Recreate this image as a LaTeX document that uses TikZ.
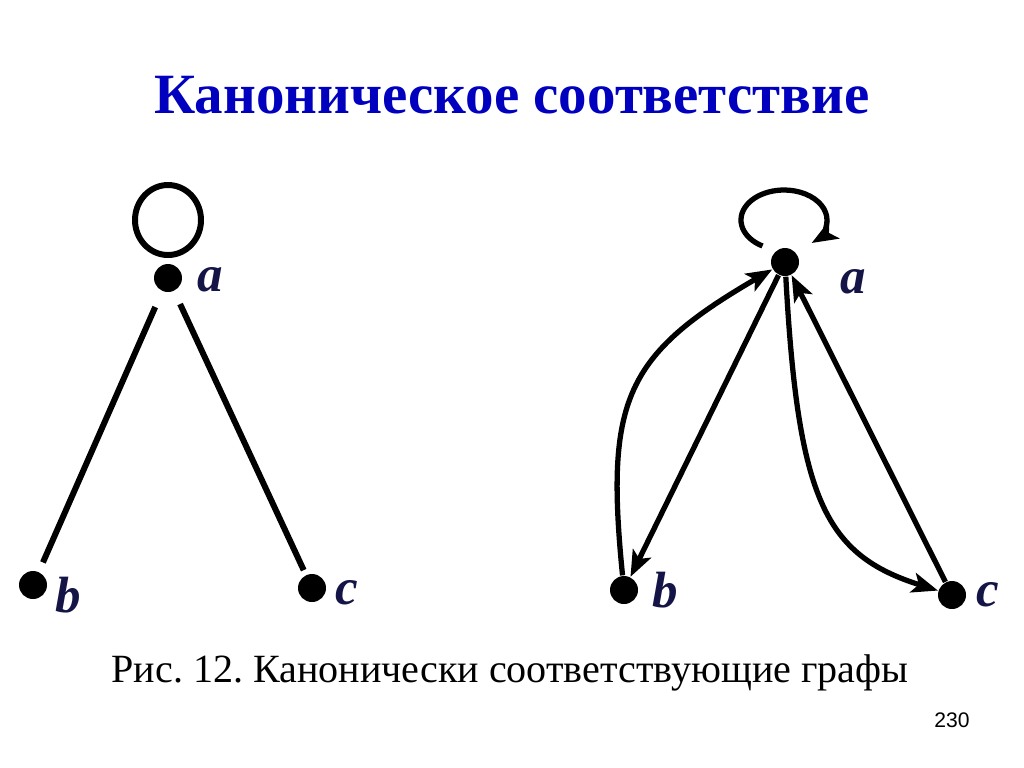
\documentclass[tikz,border=0pt]{standalone}
\usepackage{fontspec}
\setmainfont{Liberation Serif}
\newfontfamily\numfont{Liberation Sans}
\usetikzlibrary{arrows.meta}
\definecolor{titleblue}{RGB}{0,0,190}
\definecolor{labelnavy}{RGB}{20,20,70}
\frenchspacing

\begin{document}
\begin{tikzpicture}[
        dot/.style = {circle, fill, inner sep=0pt, minimum size=0.28cm},
        lbl/.style = {text=labelnavy, inner sep=0pt,
            font=\fontsize{14.5}{15}\selectfont\bfseries\itshape},
        >={Stealth[length=0.26cm, width=0.2cm, inset=0.06cm]}]
    \useasboundingbox (0,0) rectangle (10.24,-7.67);
    \node[anchor=base, text=titleblue, font=\fontsize{16.2}{19}\selectfont\bfseries]
        (title) at (5.12,-1.13) {Каноническое соответствие};
    % left graph
    \node[dot] (a1) at (1.68,-2.78) {};
    \node[dot] (b1) at (0.33,-5.85) {};
    \node[dot] (c1) at (3.12,-5.88) {};
    \node[lbl] (la1) at (2.10,-2.80) {a};
    \node[lbl] (lb1) at (0.68,-5.95) {b};
    \node[lbl] (lc1) at (3.47,-5.93) {c};
    \begin{scope}[line width=1.7pt]
        \draw (a1) ++(0,0.58) circle[x radius=0.33, y radius=0.35];
        \draw[shorten <=0.17cm, shorten >=0.1cm] (a1) -- (b1);
        \draw[shorten <=0.14cm, shorten >=0.05cm] (a1) -- (c1);
    \end{scope}
    % right graph
    \node[dot] (a2) at (7.85,-2.62) {};
    \node[dot] (b2) at (6.24,-5.90) {};
    \node[dot] (c2) at (9.52,-5.95) {};
    \node[lbl] (la2) at (8.53,-2.82) {a};
    \node[lbl] (lb2) at (6.65,-5.90) {b};
    \node[lbl] (lc2) at (9.88,-5.95) {c};
    \begin{scope}[line width=1.5pt]
        \draw[->] (a2) ++(-0.225,0.16) arc[start angle=240, end angle=-50,
            x radius=0.43, y radius=0.30];
        \draw[->] (b2) .. controls (6.05,-4.0) and (6.25,-3.55) .. (a2);
        \draw[->] (a2) -- (b2);
        \draw[->] (a2) .. controls (7.98,-5.0) and (8.25,-5.55) .. (c2);
        \draw[->] (c2) -- (a2);
    \end{scope}
    \node[anchor=base, font=\fontsize{11.4}{14}\selectfont]
        (caption) at (5.10,-6.82) {Рис. 12. Канонически соответствующие графы};
    \node[anchor=base, font=\numfont\fontsize{6}{7}\selectfont]
        (page) at (9.52,-7.27) {230};
\end{tikzpicture}
\end{document}
